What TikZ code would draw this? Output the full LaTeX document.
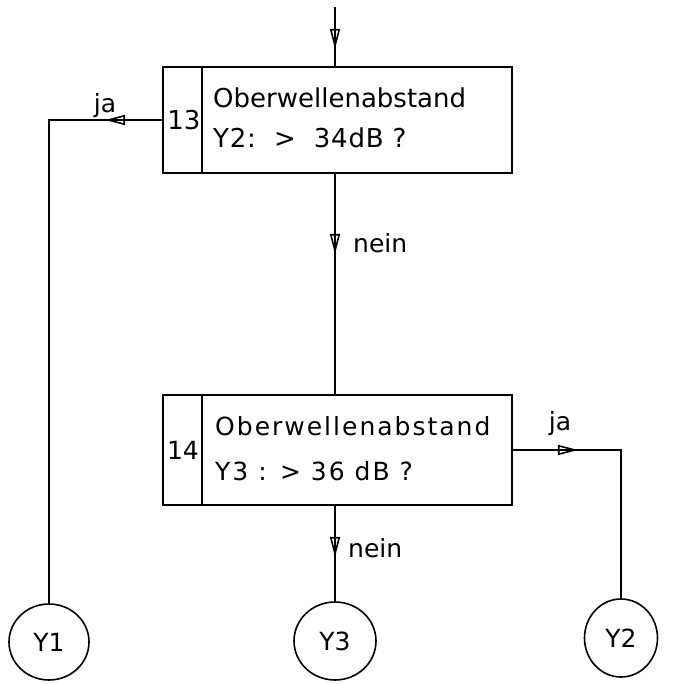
\documentclass[tikz,border=0pt]{standalone}
\usepackage{fontspec}
\setmainfont{DejaVu Sans}
\usetikzlibrary{arrows.meta,decorations.markings,shapes.geometric}
\tikzset{
  flow/.style={line width=1.9pt},
  tipat/.style={postaction={decorate},decoration={markings,mark=at position #1 with {\arrow{Triangle[open,length=20pt,width=10pt,line width=1.6pt]}}}},
  box/.style={draw,line width=1.9pt,minimum width=349pt,inner sep=0pt},
  conn/.style={draw,ellipse,line width=1.6pt,inner sep=0pt,font=\fontsize{25}{28}\selectfont},
  txt/.style={anchor=base west,inner sep=0pt,font=\fontsize{26}{30}\selectfont},
  lbl/.style={inner sep=0pt,font=\fontsize{25}{28}\selectfont},
}
\begin{document}
\begin{tikzpicture}[x=1pt,y=-1pt]
\useasboundingbox (0,0) rectangle (674,684);
% boxes
\node[box,minimum height=106pt] (b13) at (337.5,120) {};
\node[box,minimum height=110pt] (b14) at (337.5,450) {};
\draw[flow] ([xshift=40pt]b13.north west) -- ([xshift=40pt]b13.south west);
\draw[flow] ([xshift=40pt]b14.north west) -- ([xshift=40pt]b14.south west);
% box texts
\node[lbl,font=\fontsize{26}{30}\selectfont] (n13) at (184,120) {13};
\node[txt] (t13a) at (213,108) {Oberwellenabstand};
\node[txt] (t13b) at (213,148) {\addfontfeature{LetterSpace=3}Y2:\ \ >\ \ 34dB ?};
\node[lbl,font=\fontsize{25}{28}\selectfont] (n14) at (183,450) {14};
\node[txt,font=\fontsize{25}{28}\selectfont] (t14a) at (215,435) {\addfontfeature{LetterSpace=8}Oberwellenabstand};
\node[txt,font=\fontsize{25}{28}\selectfont] (t14b) at (215,480) {\addfontfeature{LetterSpace=8}Y3 : > 36 dB ?};
% connector circles
\node[conn,minimum width=80pt,minimum height=76pt] (y1) at (49,642) {Y1};
\node[conn,minimum width=82pt,minimum height=78pt] (y3) at (335,641) {Y3};
\node[conn,minimum width=73pt,minimum height=78pt] (y2) at (621,638) {Y2};
% connectors
\coordinate (in13) at (335,7);
\draw[flow,tipat=42pt] (in13) -- (in13 |- b13.north);
\draw[flow,tipat=80pt] (b13.south -| in13) -- (b14.north -| in13);
\draw[flow,tipat=57pt] (b13.west) -- (b13.west -| y1) -- (y1.north);
\draw[flow,tipat=65pt] (b14.east) -- (b14.east -| y2) -- (y2.north);
\draw[flow,tipat=51pt] (b14.south -| y3) -- (y3.north);
% labels
\node[lbl,anchor=base] (ja1) at (105,113) {ja};
\node[lbl,anchor=base] (ja2) at (560,430) {ja};
\node[lbl,anchor=base west] (nein1) at (353,253) {nein};
\node[lbl,anchor=base west] (nein2) at (348,557) {nein};
\end{tikzpicture}
\end{document}
